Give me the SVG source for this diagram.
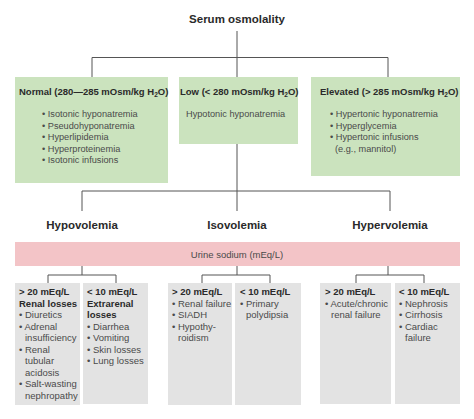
<svg xmlns="http://www.w3.org/2000/svg" width="474" height="419" viewBox="0 0 474 419">
<style>
text{font-family:"Liberation Sans",Arial,sans-serif;fill:#2a2a2a}
.title{font-size:11.5px;font-weight:bold;text-anchor:middle}
.vol{font-size:11.5px;font-weight:bold;text-anchor:middle}
.hd{font-size:9.5px;font-weight:bold}
.tx{font-size:9.5px;fill:#4a4a4a}
.tt{font-size:9.2px;fill:#4a4a4a}
.green{fill:#cbe3be}
.grey{fill:#e3e3e3}
.pink{fill:#f3c4c7}
.ln{stroke:#555;stroke-width:1;fill:none}
</style>
<rect width="474" height="419" fill="#fff"/>
<g id="connectors">
<path class="ln" d="M237,31V77M92,77V57.5H388V77"/>
<path class="ln" d="M237,144V211M82,211V191H390V211"/>
<path class="ln" d="M82,266V275M48,283V275H116V283"/>
<path class="ln" d="M237,266V275M202,283V275H270V283"/>
<path class="ln" d="M388,266V275M356,283V275H424V283"/>
</g>
<g id="serum"><text class="title" x="237" y="23">Serum osmolality</text></g>
<g id="normal">
<rect class="green" x="15" y="77" width="153" height="106"/>
<text class="hd" x="19" y="95">Normal (280—285 mOsm/kg H<tspan font-size="6.5" dy="2">2</tspan><tspan dy="-2">O)</tspan></text>
<text class="tt" x="42" y="117">• Isotonic hyponatremia</text>
<text class="tt" x="42" y="128.5">• Pseudohyponatremia</text>
<text class="tt" x="42" y="140">• Hyperlipidemia</text>
<text class="tt" x="42" y="151.5">• Hyperproteinemia</text>
<text class="tt" x="42" y="163">• Isotonic infusions</text>
</g>
<g id="low">
<rect class="green" x="179" y="77" width="119" height="67"/>
<text class="hd" x="180" y="95">Low (&lt; 280 mOsm/kg H<tspan font-size="6.5" dy="2">2</tspan><tspan dy="-2">O)</tspan></text>
<text class="tt" x="186" y="117">Hypotonic hyponatremia</text>
</g>
<g id="elevated">
<rect class="green" x="311" y="77" width="149" height="99"/>
<text class="hd" x="320" y="95">Elevated (&gt; 285 mOsm/kg H<tspan font-size="6.5" dy="2">2</tspan><tspan dy="-2">O)</tspan></text>
<text class="tt" x="330" y="117">• Hypertonic hyponatremia</text>
<text class="tt" x="330" y="128.5">• Hyperglycemia</text>
<text class="tt" x="330" y="140">• Hypertonic infusions</text>
<text class="tt" x="335" y="151.5">(e.g., mannitol)</text>
</g>
<g id="hypovolemia"><text class="vol" x="82" y="229">Hypovolemia</text></g>
<g id="isovolemia"><text class="vol" x="237" y="229">Isovolemia</text></g>
<g id="hypervolemia"><text class="vol" x="390" y="229">Hypervolemia</text></g>
<g id="urine">
<rect class="pink" x="15" y="242" width="445" height="24"/>
<text class="tx" x="237" y="257.5" text-anchor="middle">Urine sodium (mEq/L)</text>
</g>
<g id="renal-losses">
<rect class="grey" x="15" y="283" width="65" height="122"/>
<text class="hd" x="19" y="295">&gt; 20 mEq/L</text>
<text class="hd" x="19" y="306.5">Renal losses</text>
<text class="tx" x="19" y="318">• Diuretics</text>
<text class="tx" x="19" y="329.5">• Adrenal</text>
<text class="tx" x="25" y="341">insufficiency</text>
<text class="tx" x="19" y="352.5">• Renal</text>
<text class="tx" x="25" y="364">tubular</text>
<text class="tx" x="25" y="375.5">acidosis</text>
<text class="tx" x="19" y="387">• Salt-wasting</text>
<text class="tx" x="25" y="398.5">nephropathy</text>
</g>
<g id="extrarenal-losses">
<rect class="grey" x="83" y="283" width="65" height="121"/>
<text class="hd" x="87" y="295">&lt; 10 mEq/L</text>
<text class="hd" x="87" y="306.5">Extrarenal</text>
<text class="hd" x="87" y="318">losses</text>
<text class="tx" x="87" y="329.5">• Diarrhea</text>
<text class="tx" x="87" y="341">• Vomiting</text>
<text class="tx" x="87" y="352.5">• Skin losses</text>
<text class="tx" x="87" y="364">• Lung losses</text>
</g>
<g id="iso-high">
<rect class="grey" x="168" y="283" width="64" height="122"/>
<text class="hd" x="172" y="295">&gt; 20 mEq/L</text>
<text class="tx" x="172" y="306.5">• Renal failure</text>
<text class="tx" x="172" y="318">• SIADH</text>
<text class="tx" x="172" y="329.5">• Hypothy-</text>
<text class="tx" x="178" y="341">roidism</text>
</g>
<g id="iso-low">
<rect class="grey" x="235" y="283" width="66" height="122"/>
<text class="hd" x="240" y="295">&lt; 10 mEq/L</text>
<text class="tx" x="240" y="306.5">• Primary</text>
<text class="tx" x="246" y="318">polydipsia</text>
</g>
<g id="hyper-high">
<rect class="grey" x="320" y="283" width="71" height="121"/>
<text class="hd" x="325" y="295">&gt; 20 mEq/L</text>
<text class="tx" x="325" y="306.5">• Acute/chronic</text>
<text class="tx" x="331" y="318">renal failure</text>
</g>
<g id="hyper-low">
<rect class="grey" x="395" y="283" width="65" height="121"/>
<text class="hd" x="399" y="295">&lt; 10 mEq/L</text>
<text class="tx" x="399" y="306.5">• Nephrosis</text>
<text class="tx" x="399" y="318">• Cirrhosis</text>
<text class="tx" x="399" y="329.5">• Cardiac</text>
<text class="tx" x="405" y="341">failure</text>
</g>
</svg>
